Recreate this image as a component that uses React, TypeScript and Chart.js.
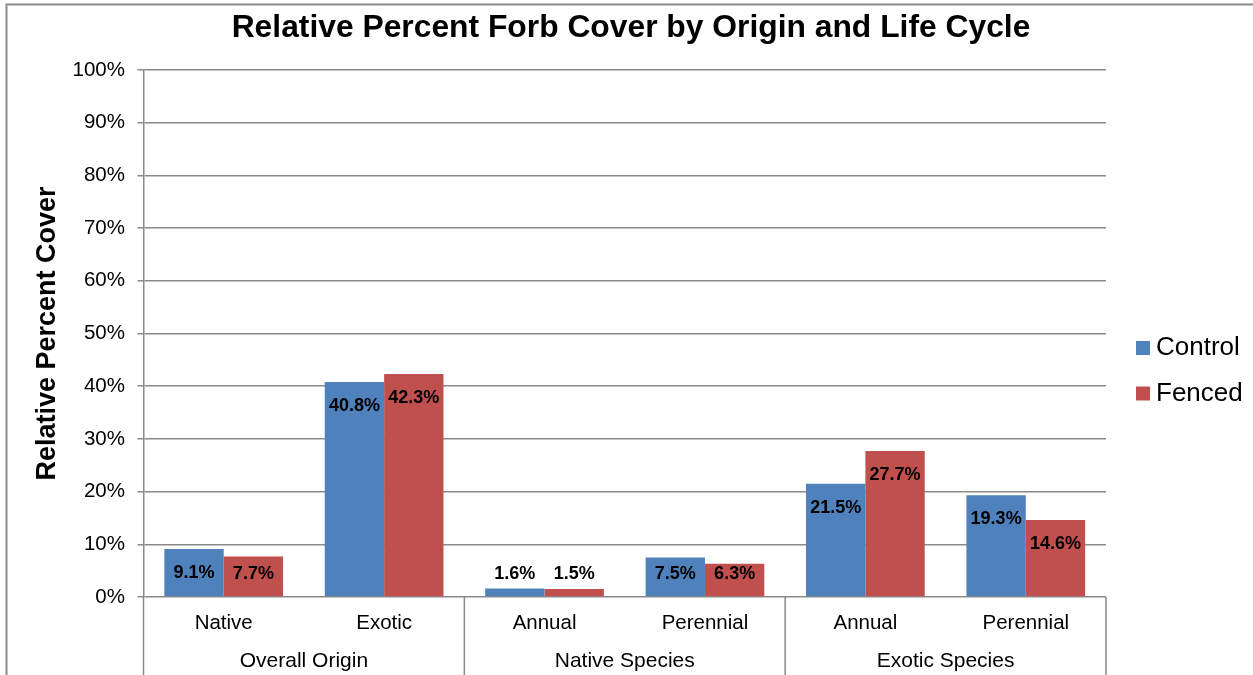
import { useEffect, useRef } from 'react';
import { Chart, registerables } from 'chart.js';

Chart.register(...registerables);

const FONT = "'Liberation Sans', Arial, Helvetica, sans-serif";

const chartTitle = 'Relative Percent Forb Cover by Origin and Life Cycle';
const yAxisTitle = 'Relative Percent Cover';
const categories = ['Native', 'Exotic', 'Annual', 'Perennial', 'Annual', 'Perennial'];
const groupLabels = ['Overall Origin', 'Native Species', 'Exotic Species'];
const seriesNames = ['Control', 'Fenced'];
const controlValues = [9.1, 40.8, 1.6, 7.5, 21.5, 19.3];
const fencedValues = [7.7, 42.3, 1.5, 6.3, 27.7, 14.6];
const seriesColors = ['#4F81BD', '#C0504D'];

const GRID = '#8a8a8a';

// Outer frame and chart title
const framePlugin = {
  id: 'frame',
  beforeDraw(chart: any) {
    const { ctx, width } = chart;
    ctx.save();
    ctx.fillStyle = '#ffffff';
    ctx.fillRect(0, 0, width, chart.height);
    ctx.strokeStyle = '#8c8c8c';
    ctx.lineWidth = 2;
    ctx.strokeRect(6.5, 4.5, width + 100, chart.height + 100);
    ctx.fillStyle = '#000';
    ctx.font = `bold 31.8px ${FONT}`;
    ctx.textAlign = 'center';
    ctx.textBaseline = 'middle';
    ctx.fillText(chartTitle, 631, 28.5);
    ctx.restore();
  },
};

// Value labels inside the top of each bar
const valueLabelPlugin = {
  id: 'valueLabels',
  afterDatasetsDraw(chart: any) {
    const { ctx, chartArea } = chart;
    ctx.save();
    ctx.font = `bold 18px ${FONT}`;
    ctx.fillStyle = '#000';
    ctx.textAlign = 'center';
    ctx.textBaseline = 'middle';
    chart.data.datasets.forEach((ds: any, di: number) => {
      const meta = chart.getDatasetMeta(di);
      meta.data.forEach((bar: any, i: number) => {
        const v = ds.data[i] as number;
        const y = Math.min(bar.y + 24, chartArea.bottom - 23);
        ctx.fillText(v.toFixed(1) + '%', bar.x, y);
      });
    });
    ctx.restore();
  },
};

// Second category row (groups) with separators
const groupAxisPlugin = {
  id: 'groupAxis',
  afterDraw(chart: any) {
    const { ctx, chartArea } = chart;
    const x = chart.scales.x;
    const half = (x.getPixelForValue(1) - x.getPixelForValue(0)) / 2;
    const per = categories.length / groupLabels.length;
    ctx.save();
    ctx.strokeStyle = GRID;
    ctx.lineWidth = 1.5;
    const bottom = chart.height;
    for (let g = 0; g <= groupLabels.length; g++) {
      const idx = Math.min(g * per, categories.length - 1);
      const px = g * per < categories.length ? x.getPixelForValue(idx) - half : x.getPixelForValue(idx) + half;
      ctx.beginPath();
      ctx.moveTo(px, chartArea.bottom);
      ctx.lineTo(px, bottom);
      ctx.stroke();
    }
    ctx.fillStyle = '#000';
    ctx.font = `21px ${FONT}`;
    ctx.textAlign = 'center';
    ctx.textBaseline = 'middle';
    groupLabels.forEach((label, g) => {
      const l = x.getPixelForValue(g * per) - half;
      const r = x.getPixelForValue(g * per + per - 1) + half;
      ctx.fillText(label, (l + r) / 2, chartArea.bottom + 64);
    });
    ctx.restore();
  },
};

// Legend at the right
const legendPlugin = {
  id: 'sideLegend',
  afterDraw(chart: any) {
    const { ctx } = chart;
    ctx.save();
    ctx.font = `26px ${FONT}`;
    ctx.textAlign = 'left';
    ctx.textBaseline = 'middle';
    chart.data.datasets.forEach((ds: any, i: number) => {
      const cy = 348 + i * 45.5;
      ctx.fillStyle = ds.backgroundColor;
      ctx.fillRect(1136, cy - 7, 14, 14);
      ctx.fillStyle = '#000';
      ctx.fillText(ds.label, 1156, cy);
    });
    ctx.restore();
  },
};

export default function App() {
  const canvasRef = useRef<HTMLCanvasElement | null>(null);

  useEffect(() => {
    const canvas = canvasRef.current;
    if (!canvas) return;
    Chart.defaults.font.family = FONT;
    const chart = new Chart(canvas, {
      type: 'bar',
      data: {
        labels: categories,
        datasets: [
          {
            label: seriesNames[0],
            data: controlValues,
            backgroundColor: seriesColors[0],
            borderWidth: 0,
            categoryPercentage: 0.74,
            barPercentage: 1,
          },
          {
            label: seriesNames[1],
            data: fencedValues,
            backgroundColor: seriesColors[1],
            borderWidth: 0,
            categoryPercentage: 0.74,
            barPercentage: 1,
          },
        ],
      },
      options: {
        responsive: false,
        animation: false,
        devicePixelRatio: 1,
        layout: { padding: { top: 70, right: 147, left: 0, bottom: 0 } },
        plugins: {
          legend: { display: false },
          title: { display: false },
          tooltip: { enabled: false },
        },
        scales: {
          x: {
            grid: { display: false, drawTicks: false },
            border: { display: false },
            ticks: {
              color: '#000',
              font: { size: 20.5, family: FONT },
              padding: 14,
              maxRotation: 0,
              autoSkip: false,
            },
            afterFit: (s: any) => {
              s.height = 78;
            },
          },
          y: {
            min: 0,
            max: 100,
            ticks: {
              stepSize: 10,
              color: '#000',
              font: { size: 20.5, family: FONT },
              padding: 12.5,
              callback: (v: any) => `${v}%`,
            },
            grid: { color: GRID, lineWidth: 1.5, tickLength: 6 },
            border: { color: GRID, width: 1.5 },
            title: {
              display: true,
              text: yAxisTitle,
              color: '#000',
              font: { size: 27, weight: 'bold', family: FONT },
              padding: { top: 31, bottom: 0 },
            },
            afterFit: (s: any) => {
              s.width = 143.5;
            },
          },
        },
      },
      plugins: [framePlugin, valueLabelPlugin, groupAxisPlugin, legendPlugin],
    } as any);
    return () => chart.destroy();
  }, []);

  return (
    <div style={{ position: 'absolute', left: 0, top: 0, width: 1253, height: 675 }}>
      <canvas ref={canvasRef} width={1253} height={675} style={{ width: 1253, height: 675, display: 'block' }} />
    </div>
  );
}
